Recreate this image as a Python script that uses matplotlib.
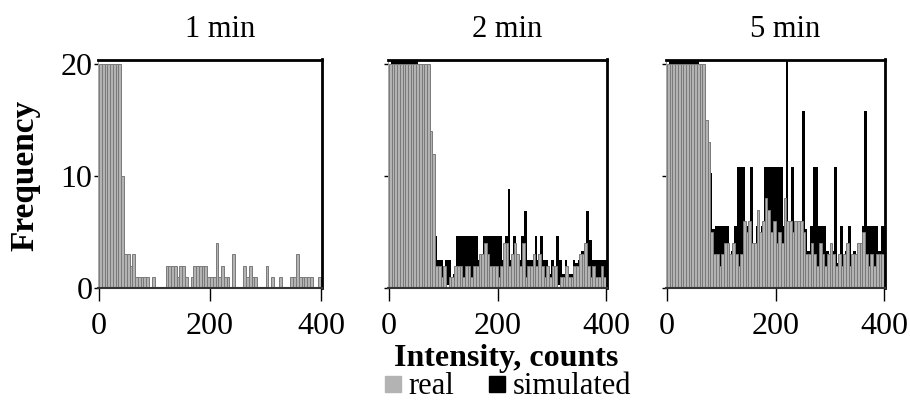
import numpy as np
import matplotlib
matplotlib.use("Agg")
import matplotlib.pyplot as plt
import matplotlib.transforms as mtransforms
from matplotlib.lines import Line2D

plt.rcParams['font.family'] = ['Liberation Serif', 'DejaVu Serif']

# histogram bins: 5 counts wide, 0..400
bin_width = 5
bin_left = np.arange(0, 400, bin_width)

titles = ["1 min", "2 min", "5 min"]

real_1 = [20, 20, 20, 20, 20, 20, 20, 20, 10, 3,
          3, 2, 3, 1, 1, 1, 1, 1, 0, 1,
          0, 0, 0, 0, 2, 2, 2, 2, 1, 2,
          2, 1, 0, 1, 2, 2, 2, 2, 2, 1,
          1, 1, 4, 1, 2, 1, 1, 0, 3, 0,
          0, 0, 2, 1, 2, 1, 1, 0, 0, 0,
          2, 0, 1, 0, 0, 1, 0, 0, 0, 1,
          1, 3, 1, 1, 1, 1, 1, 0, 0, 1]
# no simulated bars show in the 1 min panel
sim_1 = [0] * 80

real_2 = [20, 20, 20, 20, 20, 20, 20, 20, 20, 20,
          20, 20, 20, 20, 20, 14, 12, 2, 2, 1,
          2, 0, 1, 1, 2, 2, 2, 1, 2, 2,
          1, 2, 2, 3, 3, 4, 3, 2, 2, 2,
          1, 2, 4, 4, 2, 3, 4, 3, 2, 4,
          1, 2, 2, 3, 2, 3, 2, 1, 2, 1,
          2, 2, 0, 1, 1, 2, 1, 1, 2, 2,
          3, 3, 4, 2, 1, 2, 1, 1, 2, 1]
sim_2 = [20, 20, 20, 20, 20, 20, 20, 20, 20, 20,
         4.4, 4.4, 4.4, 4.4, 4.4, 4.4, 4.4, 2.2, 2.2, 1,
         2.2, 2.2, 0, 1, 4.4, 4.4, 4.4, 4.4, 4.4, 4.4,
         4.4, 4.4, 2.2, 2.2, 4.4, 4.4, 4.4, 4.4, 4.4, 4.4,
         4.4, 2.2, 4.4, 8.6, 2.2, 4.4, 2.2, 2.2, 4.4, 6.6,
         2.2, 2.2, 2.2, 4.4, 2.2, 4.4, 2.2, 2.2, 1, 2.2,
         1, 4.4, 2.2, 1, 2.2, 1, 1, 2.2, 2, 2.2,
         3, 3, 6.6, 4, 2.2, 2.2, 2.2, 2.2, 2.2, 2.2]

real_3 = [20, 20, 20, 20, 20, 20, 20, 20, 20, 20,
          20, 20, 20, 20, 15, 13, 5, 3, 3, 2,
          3, 4, 4, 3, 4, 3, 2, 3, 6, 5,
          6, 4, 4, 7, 5, 6, 8, 7, 5, 6,
          4, 5, 4, 8, 6, 6, 5, 6, 6, 6,
          5, 3, 3, 4, 3, 2, 4, 3, 2, 3,
          4, 3, 2, 3, 2, 3, 4, 2, 3, 3,
          4, 4, 5, 3, 2, 3, 2, 3, 3, 3]
sim_3 = [20, 20, 20, 20, 20, 20, 20, 20, 20, 20,
         20, 10, 10, 10, 10, 10, 5, 5.3, 5.3, 5.3,
         5.3, 5.3, 2, 3, 5.3, 10.5, 10.5, 10.5, 5.3, 4,
         10.5, 3, 5.3, 4, 5.3, 10.5, 10.5, 10.5, 10.5, 10.5,
         10.5, 10.5, 5.3, 20, 5.3, 10.5, 5.3, 3, 5.3, 15.5,
         5, 3, 5.3, 10.5, 10.5, 5.3, 5.3, 5.3, 3, 2,
         3, 10.5, 2, 5.3, 2, 3, 5.3, 2, 3, 2,
         3, 5.3, 15.5, 5.3, 5.3, 5.3, 5.3, 3, 5.3, 5.3]

real_all = [real_1, real_2, real_3]
sim_all = [sim_1, sim_2, sim_3]

gray = "#b3b3b3"
gray_edge = "#7a7a7a"

fig = plt.figure(figsize=(9.1, 4.05), dpi=100)
# pixel position of x=0 and span 0..400 for each panel
x0_px = [99, 389, 667]
span_px = [222, 217, 217]
bottom = 117 / 405
height = (288 - 59.5) / 405

for i in range(3):
    scale = span_px[i] / 400
    left = (x0_px[i] - 2 * scale) / 910
    width = span_px[i] * 404 / 400 / 910
    ax = fig.add_axes([left, bottom, width, height])
    # simulated drawn behind, shifted up-right like the 3D depth in the original
    shift = mtransforms.offset_copy(ax.transData, fig=fig, x=2, y=3, units='dots')
    ax.bar(bin_left, sim_all[i], width=bin_width, align='edge', color='black',
           edgecolor='black', linewidth=0, transform=shift, zorder=1)
    ax.bar(bin_left, real_all[i], width=bin_width, align='edge', color=gray,
           edgecolor=gray_edge, linewidth=0.7, zorder=2)
    ax.set_xlim(-2, 402)
    ax.set_ylim(0, 20.4)
    ax.set_xticks([0, 200, 400])
    ax.set_yticks([0, 10, 20])
    ax.tick_params(axis='x', direction='out', length=9, width=1, pad=8,
                   labelsize=23)
    ax.tick_params(axis='y', direction='out', length=3, width=1, pad=1,
                   labelsize=23)
    if i > 0:
        ax.set_yticklabels([])
    for s in ['top', 'right']:
        ax.spines[s].set_linewidth(2)
        ax.spines[s].set_color('black')
    ax.spines['bottom'].set_linewidth(1.5)
    ax.spines['bottom'].set_color('#333333')
    ax.spines['left'].set_linewidth(0.6)
    ax.spines['left'].set_color('#999999')
    ax.text(0.545, 1.07, titles[i], transform=ax.transAxes, ha='center',
            va='bottom', fontsize=22)

fig.text(0.027, 0.568, "Frequency", rotation=90, ha='center', va='center',
         fontsize=24, fontweight='bold')
fig.text(0.556, 0.116, "Intensity, counts", ha='center', va='center',
         fontsize=23, fontweight='bold')

handles = [Line2D([], [], marker='s', linestyle='none', color=gray, markersize=11),
           Line2D([], [], marker='s', linestyle='none', color='black', markersize=11)]
fig.legend(handles, ["real", "simulated"], loc='center', bbox_to_anchor=(0.556, 0.045),
           ncol=2, frameon=False, fontsize=22, handletextpad=0.1,
           columnspacing=1.0, handlelength=0.8, borderpad=0)

fig.savefig("out.png", dpi=100)
